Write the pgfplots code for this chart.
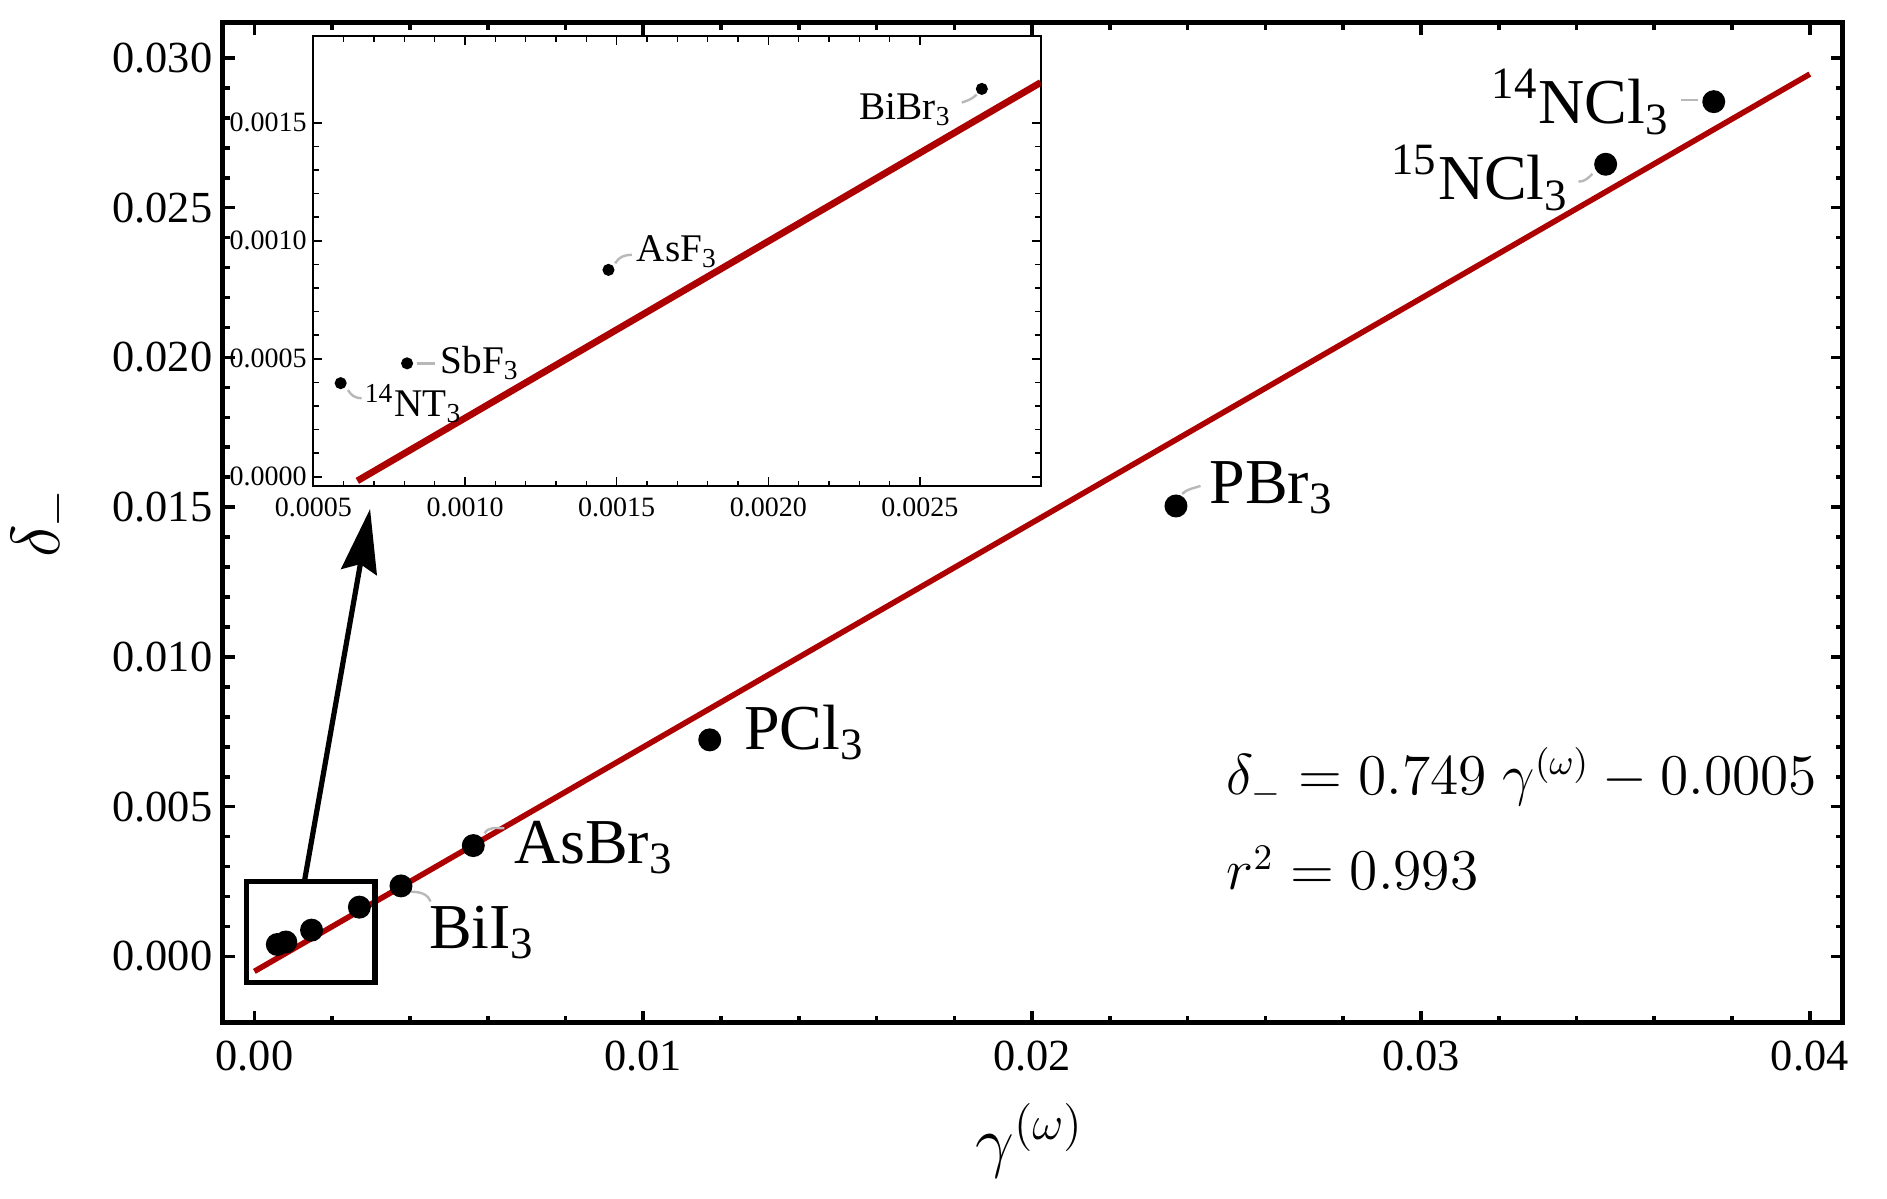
\documentclass[border=0pt]{standalone}
\usepackage[no-math]{fontspec}
\setmainfont{Liberation Serif}
\usepackage{pgfplots}
\pgfplotsset{compat=1.18}
\usetikzlibrary{arrows.meta}
\definecolor{fitred}{rgb}{0.68,0,0}
\definecolor{leader}{gray}{0.72}
\newcommand{\lbl}{\fontsize{16}{19}\selectfont}
\newcommand{\ilbl}{\fontsize{9.8}{12}\selectfont}
\begin{document}
\begin{tikzpicture}
\path[use as bounding box] (-55.7pt,-44pt) rectangle (416.1pt,255.75pt);
% ---------------- main axis ----------------
\begin{axis}[
  at={(0pt,0pt)}, anchor=south west,
  scale only axis, width=405pt, height=250.1pt,
  xmin=-0.000813, xmax=0.040843, ymin=-0.00222, ymax=0.03118,
  clip=false,
  axis line style={line width=1.3pt},
  tick align=inside, tick pos=both,
  major tick length=3pt, minor tick length=1.75pt,
  every tick/.style={black, line width=0.9pt},
  xtick={0,0.01,0.02,0.03,0.04}, minor x tick num=4,
  ytick={0,0.005,0.01,0.015,0.02,0.025,0.03}, minor y tick num=4,
  scaled ticks=false,
  /pgf/number format/assume math mode=true,
  x tick label style={/pgf/number format/fixed, /pgf/number format/fixed zerofill,
     /pgf/number format/precision=2, font=\fontsize{11.1}{13}\selectfont,
     inner sep=0pt, yshift=-4.25pt},
  y tick label style={/pgf/number format/fixed, /pgf/number format/fixed zerofill,
     /pgf/number format/precision=3, font=\fontsize{11.1}{13}\selectfont,
     inner sep=0pt, xshift=-2.4pt},
  xlabel={$\gamma^{(\omega)}$},
  xlabel style={at={(axis description cs:0.498,-0.118)}, anchor=center,
     font=\fontsize{18}{21}\selectfont},
  ylabel={$\delta_{-}$},
  ylabel style={at={(axis description cs:-0.111,0.5)}, anchor=center,
     font=\fontsize{18}{21}\selectfont},
]
\addplot[fitred, line width=1.4pt] coordinates {(0,-0.0005) (0.04,0.02946)};
% leader lines
\draw[leader, line width=0.6pt] (axis cs:0.00401,0.00216) to[out=0,in=110] (axis cs:0.00453,0.00183);
\draw[leader, line width=0.6pt] (axis cs:0.00592,0.00411) to[out=60,in=180] (axis cs:0.00643,0.00428);
\draw[leader, line width=0.6pt] (axis cs:0.02386,0.01544) to[out=45,in=200] (axis cs:0.02433,0.01571);
\draw[leader, line width=0.6pt] (axis cs:0.03441,0.02613) to[out=225,in=0] (axis cs:0.03405,0.02587);
\draw[leader, line width=0.6pt] (axis cs:0.0367,0.0286) -- (axis cs:0.03713,0.0286);
\addplot[only marks, mark=*, mark size=2.67pt, black] coordinates {
  (0.00059,0.000397) (0.000809,0.000481) (0.00147,0.000877) (0.0027,0.001645)
  (0.00377,0.002354) (0.00563,0.0037) (0.01171,0.00723) (0.0237,0.01504)
  (0.03475,0.02645) (0.03753,0.02854)};
% point labels
\node[anchor=base west, inner sep=0pt, font=\lbl] at (axis cs:0.00447,0.000274) {BiI\textsubscript{3}};
\node[anchor=base west, inner sep=0pt, font=\lbl] at (axis cs:0.00666,0.00311) {AsBr\textsubscript{3}};
\node[anchor=base west, inner sep=0pt, font=\lbl] at (axis cs:0.01258,0.00691) {PCl\textsubscript{3}};
\node[anchor=base west, inner sep=0pt, font=\lbl] at (axis cs:0.02454,0.01512) {PBr\textsubscript{3}};
\node[anchor=base east, inner sep=0pt, font=\lbl] at (axis cs:0.03383,0.02526) {\textsuperscript{15}NCl\textsubscript{3}};
\node[anchor=base east, inner sep=0pt, font=\lbl] at (axis cs:0.03642,0.0278) {\textsuperscript{14}NCl\textsubscript{3}};
% fit equation
\node[anchor=base west, inner sep=0pt, font=\fontsize{13.5}{16}\selectfont] at (axis cs:0.02498,0.00539) {$\delta_{-} = 0.749\;\gamma^{(\omega)} - 0.0005$};
\node[anchor=base west, inner sep=0pt, font=\fontsize{13.5}{16}\selectfont] at (axis cs:0.02498,0.00222) {$r^{2} = 0.993$};
% zoom box and arrow
\draw[black, line width=1.3pt] (axis cs:-0.000195,-0.000861) rectangle (axis cs:0.003104,0.0025);
\draw[black, line width=1.3pt, -{Stealth[length=16pt,width=9pt,inset=2pt]}] (axis cs:0.001286,0.0025) -- (axis cs:0.002975,0.01494);
\end{axis}
% ---------------- inset axis ----------------
\begin{axis}[
  at={(22.65pt,134.2pt)}, anchor=south west,
  scale only axis, width=181.85pt, height=112.5pt,
  xmin=0.0005, xmax=0.002898, ymin=-0.0000394, ymax=0.0018674,
  axis background/.style={fill=white},
  axis line style={line width=0.45pt},
  tick align=inside, tick pos=both,
  major tick length=2.25pt, minor tick length=1.4pt,
  every tick/.style={black, line width=0.4pt},
  xtick={0.0005,0.001,0.0015,0.002,0.0025}, minor x tick num=4,
  ytick={0,0.0005,0.001,0.0015}, minor y tick num=4,
  scaled ticks=false,
  /pgf/number format/assume math mode=true,
  x tick label style={/pgf/number format/fixed, /pgf/number format/fixed zerofill,
     /pgf/number format/precision=4, font=\fontsize{7}{8}\selectfont,
     inner sep=0pt, yshift=-2.85pt},
  y tick label style={/pgf/number format/fixed, /pgf/number format/fixed zerofill,
     /pgf/number format/precision=4, font=\fontsize{7}{8}\selectfont,
     inner sep=0pt, xshift=-1.5pt},
]
\addplot[fitred, line width=1.7pt] coordinates {(0.000645,-0.000017) (0.002898,0.001671)};
\draw[leader, line width=0.6pt] (axis cs:0.000614,0.000368) to[out=-60,in=180] (axis cs:0.000659,0.000333);
\draw[leader, line width=0.6pt] (axis cs:0.000843,0.000481) -- (axis cs:0.000902,0.000481);
\draw[leader, line width=0.6pt] (axis cs:0.001495,0.000905) to[out=60,in=180] (axis cs:0.00155,0.000941);
\draw[leader, line width=0.6pt] (axis cs:0.002638,0.001586) to[out=20,in=225] (axis cs:0.002687,0.00162);
\addplot[only marks, mark=*, mark size=1.3pt, black] coordinates {
  (0.00059,0.000397) (0.000809,0.000481) (0.001473,0.000877) (0.002704,0.001644)};
\node[anchor=base west, inner sep=0pt, font=\ilbl] at (axis cs:0.000667,0.000255) {\textsuperscript{14}NT\textsubscript{3}};
\node[anchor=base west, inner sep=0pt, font=\ilbl] at (axis cs:0.000917,0.00044) {SbF\textsubscript{3}};
\node[anchor=base west, inner sep=0pt, font=\ilbl] at (axis cs:0.001564,0.000912) {AsF\textsubscript{3}};
\node[anchor=base east, inner sep=0pt, font=\ilbl] at (axis cs:0.002607,0.001513) {BiBr\textsubscript{3}};
\end{axis}
\end{tikzpicture}
\end{document}
